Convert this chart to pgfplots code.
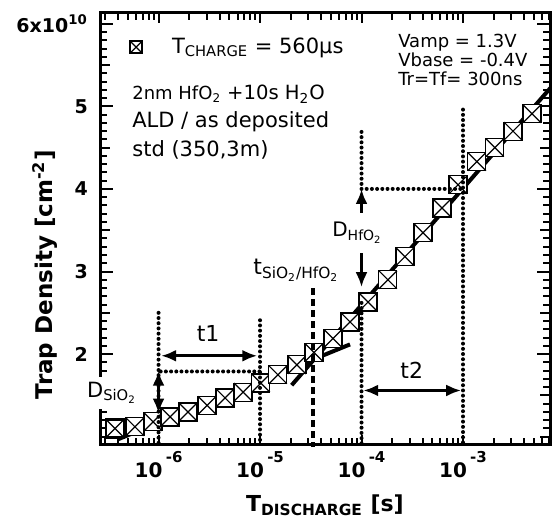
\documentclass[border=0pt]{standalone}
\usepackage{fontspec}
\setmainfont{DejaVu Sans}
\usepackage{pgfplots}
\pgfplotsset{compat=1.18}
\usetikzlibrary{arrows.meta}

\pgfdeclareplotmark{boxx}{%
  \pgfpathrectangle{\pgfqpoint{-\pgfplotmarksize}{-\pgfplotmarksize}}{\pgfqpoint{2\pgfplotmarksize}{2\pgfplotmarksize}}%
  \pgfusepathqfillstroke
  \pgfsetlinewidth{0.6pt}%
  \pgfpathmoveto{\pgfqpoint{-\pgfplotmarksize}{-\pgfplotmarksize}}%
  \pgfpathlineto{\pgfqpoint{\pgfplotmarksize}{\pgfplotmarksize}}%
  \pgfpathmoveto{\pgfqpoint{-\pgfplotmarksize}{\pgfplotmarksize}}%
  \pgfpathlineto{\pgfqpoint{\pgfplotmarksize}{-\pgfplotmarksize}}%
  \pgfusepathqstroke
}

\newcommand{\xl}[1]{10\,\raisebox{7.5pt}{\fontsize{7.5}{8}\selectfont\bfseries #1}}

\tikzset{
 dotl/.style={line width=2pt, line cap=round, dash pattern=on 0pt off 2.6pt},
 dashl/.style={line width=2.2pt, dash pattern=on 3.5pt off 2pt},
 arr/.style={line width=1.7pt, -{Latex[length=7.5pt,width=6pt]}},
 darr/.style={line width=1.7pt, {Latex[length=7.5pt,width=6pt]}-{Latex[length=7.5pt,width=6pt]}},
}

\begin{document}
\begin{tikzpicture}
\begin{axis}[
  scale only axis, width=225pt, height=216pt,
  xmode=log, xmin=2.65e-7, xmax=7.2e-3, ymin=0.9, ymax=6.13,
  axis on top,
  tick align=inside,
  major tick style={black, line width=1pt},
  minor tick style={black, line width=1pt},
  major tick length=5pt, minor tick length=3.5pt,
  xtick={1e-6,1e-5,1e-4,1e-3},
  xticklabels={\xl{-6},\xl{-5},\xl{-4},\xl{-3}},
  extra x ticks={3e-7,4e-7,5e-7,6e-7,7e-7,8e-7,9e-7,2e-3,3e-3,4e-3,5e-3,6e-3,7e-3},
  extra x tick labels={},
  extra x tick style={major tick length=3.5pt},
  ytick={1,1.5,2,2.5,3,3.5,4,4.5,5,5.5,6},
  yticklabels={},
  minor y tick num=4,
  extra y ticks={2,3,4,5,6},
  extra y tick labels={2,3,4,5,6x10\textsuperscript{10}},
  extra y tick style={major tick length=6.5pt, yticklabel style={font=\fontsize{9.5}{10}\selectfont\bfseries, xshift=-2.5pt}},
  xticklabel style={font=\fontsize{10}{12}\selectfont\bfseries, anchor=base, yshift=-16.5pt},
  xlabel={T\textsubscript{DISCHARGE} [s]},
  xlabel style={font=\fontsize{11}{12}\selectfont\bfseries, at={(axis description cs:0.5,-0.155)}, anchor=base},
  ylabel={Trap Density [cm\textsuperscript{-2}]},
  ylabel style={font=\fontsize{11.5}{12}\selectfont\bfseries, at={(axis description cs:-0.122,0.394)}, anchor=center},
  legend style={draw=none, fill=none, at={(axis description cs:0.066,0.921)}, anchor=west,
    font=\fontsize{10.5}{12}\selectfont, inner sep=0pt, column sep=13pt},
]
\coordinate (SW) at (rel axis cs:0,0);
\coordinate (NE) at (rel axis cs:1,1);
\coordinate (d1a) at (axis cs:1e-6,2.50);   \coordinate (d1b) at (axis cs:1e-6,0.9);
\coordinate (d2a) at (axis cs:1e-5,2.41);   \coordinate (d2b) at (axis cs:1e-5,0.9);
\coordinate (d3a) at (axis cs:1.05e-6,1.79); \coordinate (d3b) at (axis cs:1e-5,1.79);
\coordinate (d4a) at (axis cs:3.34e-5,2.80); \coordinate (d4b) at (axis cs:3.34e-5,0.87);
\coordinate (d5a) at (axis cs:1e-4,4.69);   \coordinate (d5b) at (axis cs:1e-4,4.0);
\coordinate (d6a) at (axis cs:1e-4,2.62);   \coordinate (d6b) at (axis cs:1e-4,0.9);
\coordinate (d7b) at (axis cs:1e-3,4.0);
\coordinate (d8a) at (axis cs:1e-3,4.96);   \coordinate (d8b) at (axis cs:1e-3,0.9);
\coordinate (a1a) at (axis cs:1.06e-6,1.98); \coordinate (a1b) at (axis cs:9.4e-6,1.98);
\coordinate (a2a) at (axis cs:1e-6,1.80);   \coordinate (a2b) at (axis cs:1e-6,1.28);
\coordinate (a3a) at (axis cs:1e-4,3.71);
\coordinate (a4a) at (axis cs:1e-4,3.22);   \coordinate (a4b) at (axis cs:1e-4,2.81);
\coordinate (a5a) at (axis cs:1.04e-4,1.56); \coordinate (a5b) at (axis cs:9.6e-4,1.56);
\coordinate (Lt1) at (axis cs:3.08e-6,2.255);
\coordinate (Lt2) at (axis cs:3.13e-4,1.806);
\coordinate (Lts) at (axis cs:8.53e-6,2.96);
\coordinate (Ldh) at (axis cs:5.11e-5,3.42);
\coordinate (Lds) at (axis cs:1.75e-7,1.48);
\coordinate (Tx1) at (rel axis cs:0.071,0.799);
\coordinate (Tx2) at (rel axis cs:0.071,0.734);
\coordinate (Tx3) at (rel axis cs:0.071,0.667);
\coordinate (Tv1) at (rel axis cs:0.662,0.921);
\coordinate (Tv2) at (rel axis cs:0.662,0.877);
\coordinate (Tv3) at (rel axis cs:0.662,0.833);

% data
\addplot[black, only marks, mark=boxx, mark size=4.5pt, mark options={fill=white, line width=1.1pt},
  legend image code/.code={\draw[black, mark size=3pt, mark options={fill=white, line width=0.8pt}] plot[mark=boxx] coordinates {(0pt,0pt)};}]
coordinates {
(3.73e-7,1.10) (5.86e-7,1.12) (8.83e-7,1.18) (1.30e-6,1.24) (1.95e-6,1.30) (3.01e-6,1.38)
(4.52e-6,1.47) (6.81e-6,1.54) (1.02e-5,1.65) (1.50e-5,1.75) (2.31e-5,1.87) (3.40e-5,2.02)
(5.24e-5,2.19) (7.71e-5,2.39) (1.16e-4,2.63) (1.82e-4,2.90) (2.68e-4,3.18) (4.04e-4,3.47)
(6.21e-4,3.77) (8.94e-4,4.05) (1.37e-3,4.33) (2.06e-3,4.50) (3.11e-3,4.70) (4.79e-3,4.91)
};
\addlegendentry{T\textsubscript{CHARGE} = 560µs}

% fits
\addplot[black, line width=2pt, forget plot] coordinates {(4.0e-7,0.97) (7.71e-5,2.118)};
\addplot[black, line width=2pt, forget plot] coordinates {(2.05e-5,1.624) (8.05e-3,5.285)};
\end{axis}

% frame
\draw[line width=1.5pt] (SW) rectangle (NE);

% guide lines
\draw[dotl] (d1a) -- (d1b);
\draw[dotl] (d2a) -- (d2b);
\draw[dotl] (d3a) -- (d3b);
\draw[dashl] (d4a) -- (d4b);
\draw[dotl] (d5a) -- (d5b);
\draw[dotl] (d6a) -- (d6b);
\draw[dotl] (d5b) -- (d7b);
\draw[dotl] (d8a) -- (d8b);

% arrows
\draw[darr] (a1a) -- (a1b);
\draw[darr] (a2a) -- (a2b);
\draw[arr] (a3a) -- (d5b);
\draw[arr] (a4a) -- (a4b);
\draw[darr] (a5a) -- (a5b);

% labels
\node[font=\fontsize{11}{12}\selectfont] at (Lt1) {t1};
\node[font=\fontsize{11}{12}\selectfont] at (Lt2) {t2};
\node[anchor=base west, inner sep=0pt, font=\fontsize{11}{12}\selectfont] at (Lts) {t\textsubscript{SiO\textsubscript{2}/HfO\textsubscript{2}}};
\node[anchor=base west, inner sep=0pt, font=\fontsize{10}{12}\selectfont] at (Ldh) {D\textsubscript{HfO\textsubscript{2}}};
\node[anchor=base west, fill=white, inner sep=2.5pt, font=\fontsize{10.5}{12}\selectfont] at (Lds) {D\textsubscript{SiO\textsubscript{2}}};

\node[anchor=base west, inner sep=0pt, font=\fontsize{9}{10}\selectfont] at (Tx1) {2nm HfO\textsubscript{2}\hspace{3pt}{\fontsize{9.8}{12}\selectfont +10s H\textsubscript{2}O}};
\node[anchor=base west, inner sep=0pt, font=\fontsize{10.5}{12}\selectfont] at (Tx2) {ALD / as deposited};
\node[anchor=base west, inner sep=0pt, font=\fontsize{10.5}{12}\selectfont] at (Tx3) {std (350,3m)};

\node[anchor=base west, inner sep=0pt, font=\fontsize{9}{10}\selectfont] at (Tv1) {Vamp = 1.3V};
\node[anchor=base west, inner sep=0pt, font=\fontsize{9}{10}\selectfont] at (Tv2) {Vbase = -0.4V};
\node[anchor=base west, inner sep=0pt, font=\fontsize{9}{10}\selectfont] at (Tv3) {Tr=Tf= 300ns};

\pgfresetboundingbox
\path[use as bounding box] ([shift={(-50pt,-41pt)}]SW) rectangle ([shift={(2.5pt,6.5pt)}]NE);
\end{tikzpicture}
\end{document}
